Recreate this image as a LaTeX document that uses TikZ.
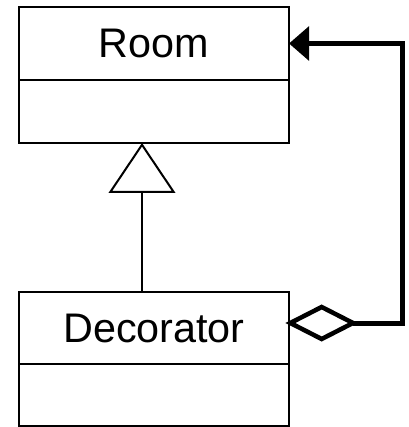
\documentclass[tikz,border=0pt]{standalone}
\usepackage{fontspec}
\setmainfont{Liberation Sans}
\usetikzlibrary{arrows.meta,shapes.geometric}
\tikzset{
  classname/.style={draw, line width=1.5pt, minimum width=202.5pt, minimum height=54.75pt,
    inner sep=0pt, outer sep=0pt, font=\fontsize{31}{31}\selectfont},
  classbody/.style={draw, line width=1.5pt, minimum width=202.5pt, inner sep=0pt, outer sep=0pt},
  aggdiamond/.style={diamond, draw, line width=3.4pt, minimum width=47pt, minimum height=24pt,
    inner sep=0pt, outer sep=0pt},
}
\begin{document}
\begin{tikzpicture}[x=0.75pt, y=-0.75pt]
    \useasboundingbox (0,0) rectangle (409,427);

    \node[classname] (room) at (154,43.5) {Room};
    \node[classbody, minimum height=47.25pt] (roombody) at (154,111.5) {};

    \node[classname, minimum height=54pt] (deco) at (154,328) {Decorator};
    \node[classbody, minimum height=46.5pt] (decobody) at (154,395) {};

    % generalisation
    \draw[line width=1.5pt, -{Triangle[open,length=37.5pt 0,width=50pt 0]}]
        ([xshift=-9pt]deco.north) -- ([xshift=-9pt]roombody.south);

    % aggregation
    \node[aggdiamond, anchor=west] (agg) at ([xshift=1pt,yshift=3.75pt]deco.east) {};
    \draw[line width=3.75pt, -{Triangle[length=15pt 0,width=25pt 0]}]
        (agg.east) -- ++(49,0) |- (room.east);
\end{tikzpicture}
\end{document}
